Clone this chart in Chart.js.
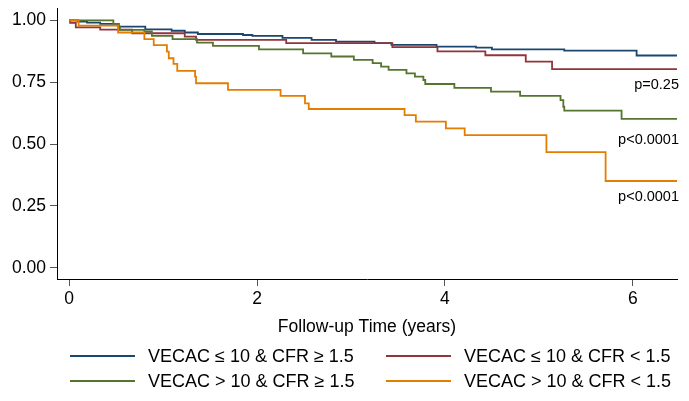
<!DOCTYPE html>
<html>
<head>
<meta charset="utf-8">
<script src="https://cdn.jsdelivr.net/npm/chart.js@4.4.0/dist/chart.umd.min.js"></script>
<style>
  html, body { margin: 0; padding: 0; background: #fff; }
  #wrap { width: 689px; height: 401px; }
</style>
</head>
<body>
<div id="wrap"><canvas id="km"></canvas></div>
<script>
// Kaplan-Meier curves (time in years, survival)
const groupNames = ['VECAC \u2264 10 & CFR \u2265 1.5', 'VECAC \u2264 10 & CFR < 1.5', 'VECAC > 10 & CFR \u2265 1.5', 'VECAC > 10 & CFR < 1.5'];
const groupColors = ['#1a476f', '#90353b', '#55752f', '#e37e00'];

const blueT = [0, 0.09, 0.19, 0.33, 0.52, 0.81, 1.09, 1.23, 1.37, 1.85, 1.95, 2.27, 2.58, 2.84, 3.25, 3.43, 3.91, 4.33, 4.50, 5.27, 6.04, 6.47];
const blueS = [1, 0.995, 0.991, 0.986, 0.975, 0.964, 0.958, 0.951, 0.945, 0.941, 0.937, 0.929, 0.921, 0.914, 0.908, 0.901, 0.894, 0.890, 0.883, 0.878, 0.858, 0.858];

const redT = [0, 0.01, 0.07, 0.33, 0.67, 1.23, 1.35, 2.31, 3.44, 3.92, 4.43, 4.86, 5.14, 6.47];
const redS = [1, 0.99, 0.972, 0.963, 0.948, 0.934, 0.921, 0.908, 0.892, 0.875, 0.859, 0.833, 0.803, 0.803];

const greenT = [0, 0.47, 0.53, 0.54, 0.80, 0.88, 1.10, 1.36, 1.53, 2.02, 2.49, 2.79, 3.03, 3.23, 3.32, 3.40, 3.59, 3.68, 3.77, 3.79, 4.10, 4.49, 4.80, 5.23, 5.26, 5.27, 5.88, 6.47];
const greenS = [1, 0.986, 0.975, 0.962, 0.955, 0.937, 0.924, 0.910, 0.897, 0.883, 0.867, 0.854, 0.840, 0.827, 0.813, 0.800, 0.786, 0.773, 0.759, 0.743, 0.727, 0.712, 0.695, 0.678, 0.651, 0.635, 0.602, 0.602];

const orangeT = [0, 0.10, 0.52, 0.80, 0.90, 1.04, 1.06, 1.11, 1.15, 1.34, 1.35, 1.69, 2.25, 2.51, 2.55, 3.57, 3.69, 4.01, 4.21, 5.08, 5.71, 6.47];
const orangeS = [1, 0.979, 0.951, 0.924, 0.900, 0.874, 0.847, 0.824, 0.796, 0.773, 0.746, 0.719, 0.695, 0.665, 0.642, 0.617, 0.591, 0.564, 0.536, 0.468, 0.351, 0.351];

const xTicks = [0, 2, 4, 6];
const yTicks = [0, 0.25, 0.5, 0.75, 1];

// log-rank p values printed under the right end of the curves
const pLabels = ['p=0.25', 'p<0.0001', 'p<0.0001'];
const pLabelY = [0.739, 0.517, 0.286];

const FONT = '"Liberation Sans", Arial, Helvetica, sans-serif';
Chart.defaults.font.family = FONT;
Chart.defaults.color = '#000';

const toPoints = (ts, ss) => ts.map((t, i) => ({ x: t, y: ss[i] }));
const series = [
    toPoints(blueT, blueS),
    toPoints(redT, redS),
    toPoints(greenT, greenS),
    toPoints(orangeT, orangeS)
];

// p values + two-column legend under the axis title
const extras = {
    id: 'extras',
    afterDraw(chart) {
        const { ctx, chartArea, scales: { y } } = chart;
        ctx.save();
        ctx.fillStyle = '#000';
        ctx.textBaseline = 'middle';

        ctx.font = '14.5px ' + FONT;
        ctx.textAlign = 'right';
        pLabels.forEach((txt, i) => {
            ctx.fillText(txt, chartArea.right + 2, y.getPixelForValue(pLabelY[i]));
        });

        const colX = [70, 386];
        const rowY = [356, 381];
        ctx.font = '18px ' + FONT;
        ctx.textAlign = 'left';
        ctx.lineWidth = 2;
        groupNames.forEach((name, i) => {
            const x = colX[i % 2];
            const yy = rowY[Math.floor(i / 2)];
            ctx.strokeStyle = groupColors[i];
            ctx.beginPath();
            ctx.moveTo(x, yy);
            ctx.lineTo(x + 65, yy);
            ctx.stroke();
            ctx.fillText(name, x + 78, yy + 1);
        });
        ctx.restore();
    }
};

new Chart(document.getElementById('km'), {
    type: 'line',
    data: {
        datasets: series.map((pts, i) => ({
            label: groupNames[i],
            data: pts,
            borderColor: groupColors[i],
            borderWidth: 1.8,
            stepped: 'before',
            pointRadius: 0,
            fill: false,
            order: series.length - i
        }))
    },
    options: {
        responsive: true,
        maintainAspectRatio: false,
        animation: false,
        layout: { padding: { top: 8, right: 12, bottom: 63, left: 0 } },
        plugins: {
            legend: { display: false },
            tooltip: { enabled: false }
        },
        scales: {
            x: {
                type: 'linear',
                min: -0.13,
                max: 6.47,
                afterBuildTicks: s => { s.ticks = xTicks.map(v => ({ value: v })); },
                afterFit: s => { s.height = 59; s.paddingLeft = 0; s.paddingRight = 0; },
                ticks: {
                    font: { size: 17.5 },
                    padding: 3,
                    maxRotation: 0,
                    callback: v => String(v)
                },
                grid: { drawOnChartArea: false, drawTicks: true, tickLength: 7, color: '#555' },
                border: { display: true, color: '#000', width: 1 },
                title: {
                    display: true,
                    text: 'Follow-up Time (years)',
                    font: { size: 17.5, lineHeight: 1.2 },
                    padding: 0
                }
            },
            y: {
                min: -0.045,
                max: 1.05,
                afterBuildTicks: s => { s.ticks = yTicks.map(v => ({ value: v })); },
                afterFit: s => { s.width = 57; s.paddingTop = 0; s.paddingBottom = 0; },
                ticks: {
                    font: { size: 17.5 },
                    padding: 4,
                    callback: v => v.toFixed(2)
                },
                grid: { drawOnChartArea: false, drawTicks: true, tickLength: 7, color: '#555' },
                border: { display: true, color: '#000', width: 1 }
            }
        }
    },
    plugins: [extras]
});
</script>
</body>
</html>
